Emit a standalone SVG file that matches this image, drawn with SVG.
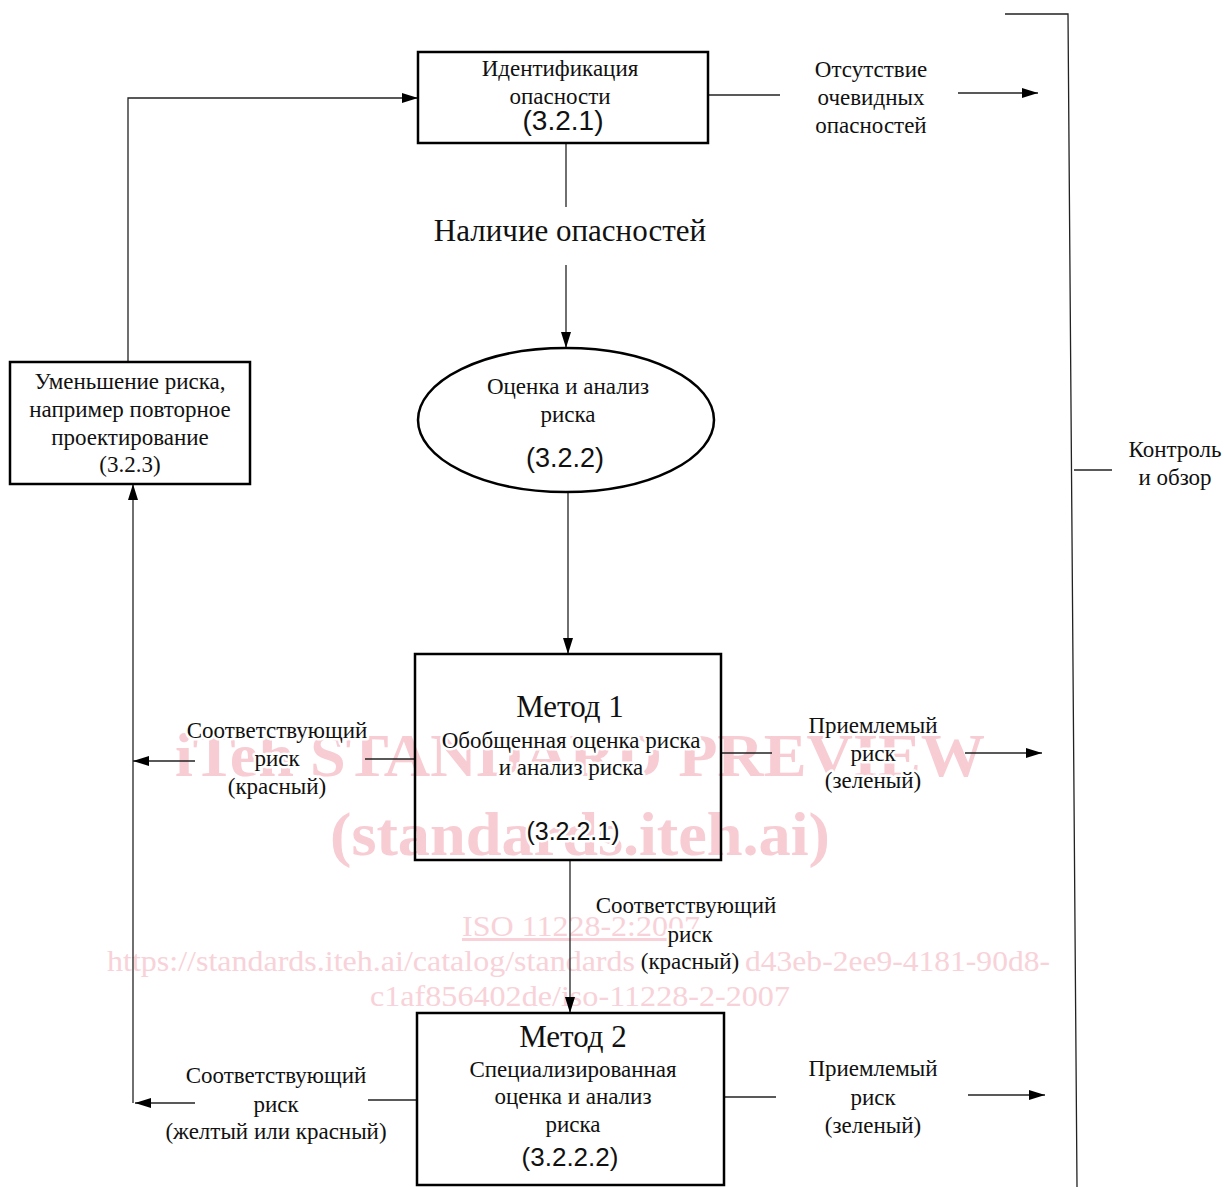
<svg xmlns="http://www.w3.org/2000/svg" width="1224" height="1187" viewBox="0 0 1224 1187">
<defs>
<marker id="ah" viewBox="0 0 16 10" refX="16" refY="5" markerWidth="16" markerHeight="10" markerUnits="userSpaceOnUse" orient="auto">
<path d="M0,0 L16,5 L0,10 z" fill="#000"/>
</marker>
<style>
.t{font-family:"Liberation Serif","DejaVu Serif",serif;font-size:23px;fill:#111;text-anchor:middle;stroke:#fff;stroke-width:5px;stroke-linejoin:round;paint-order:stroke}
.big{font-size:31px}
.mid{font-size:31px}
.num{font-family:"Liberation Sans",Arial,sans-serif;font-size:26px;fill:#111;text-anchor:middle;stroke:#fff;stroke-width:5px;stroke-linejoin:round;paint-order:stroke}
.box{fill:none;stroke:#000;stroke-width:2.5}
.ln{fill:none;stroke:#222;stroke-width:1.3}
.wm{font-family:"Liberation Serif",serif;fill:#f8d2d8;text-anchor:start}
.wmb{font-weight:bold;font-size:62px;fill:#f7ccd3}
.wms{font-size:30px}
</style>
</defs>
<rect width="1224" height="1187" fill="#fff"/>
<g id="watermark">
<text class="wm wmb" x="175" y="776" textLength="810" lengthAdjust="spacingAndGlyphs">iTeh STANDARD PREVIEW</text>
<text class="wm wmb" x="330" y="855" textLength="500" lengthAdjust="spacingAndGlyphs">(standards.iteh.ai)</text>
<text class="wm wms" x="462" y="936" textLength="238" lengthAdjust="spacingAndGlyphs" text-decoration="underline">ISO 11228-2:2007</text>
<text class="wm wms" x="107" y="971" textLength="528" lengthAdjust="spacingAndGlyphs">https://standards.iteh.ai/catalog/standards</text>
<text class="wm wms" x="745" y="971" textLength="305" lengthAdjust="spacingAndGlyphs">d43eb-2ee9-4181-90d8-</text>
<text class="wm wms" x="370" y="1006" textLength="420" lengthAdjust="spacingAndGlyphs">c1af856402de/iso-11228-2-2007</text>
</g>
<g id="connectors">
<polyline class="ln" points="128,362 128,98 418,98" marker-end="url(#ah)"/>
<line class="ln" x1="708" y1="95" x2="780" y2="95"/>
<line class="ln" x1="958" y1="93" x2="1038" y2="93" marker-end="url(#ah)"/>
<line class="ln" x1="566" y1="143" x2="566" y2="207"/>
<line class="ln" x1="566" y1="265" x2="566" y2="348" marker-end="url(#ah)"/>
<line class="ln" x1="568" y1="492" x2="568" y2="654" marker-end="url(#ah)"/>
<line class="ln" x1="415" y1="759" x2="365" y2="759"/>
<line class="ln" x1="195" y1="761" x2="133" y2="761" marker-end="url(#ah)"/>
<line class="ln" x1="721" y1="753" x2="772" y2="753"/>
<line class="ln" x1="965" y1="753" x2="1042" y2="753" marker-end="url(#ah)"/>
<line class="ln" x1="570" y1="860" x2="570" y2="1013" marker-end="url(#ah)"/>
<line class="ln" x1="417" y1="1100" x2="368" y2="1100"/>
<line class="ln" x1="195" y1="1103" x2="135" y2="1103" marker-end="url(#ah)"/>
<line class="ln" x1="133" y1="1103" x2="133" y2="484" marker-end="url(#ah)"/>
<line class="ln" x1="724" y1="1097" x2="776" y2="1097"/>
<line class="ln" x1="968" y1="1095" x2="1045" y2="1095" marker-end="url(#ah)"/>
<polyline class="ln" points="1005,14 1068,14 1077,1187"/>
<line class="ln" x1="1074" y1="470" x2="1112" y2="470"/>
</g>
<g id="n-ident">
<rect class="box" x="418" y="52" width="290" height="91"/>
<text class="t" x="560" y="76">Идентификация</text>
<text class="t" x="560" y="104">опасности</text>
<text class="num" x="563" y="130" style="font-size:28px">(3.2.1)</text>
</g>
<g id="n-absent">
<text class="t" x="871" y="77">Отсутствие</text>
<text class="t" x="871" y="105">очевидных</text>
<text class="t" x="871" y="133">опасностей</text>
</g>
<g id="n-present">
<text class="t mid" x="570" y="241">Наличие опасностей</text>
</g>
<g id="n-reduce">
<rect class="box" x="10" y="362" width="240" height="122"/>
<text class="t" x="130" y="389">Уменьшение риска,</text>
<text class="t" x="130" y="417">например повторное</text>
<text class="t" x="130" y="445">проектирование</text>
<text class="t" x="130" y="472">(3.2.3)</text>
</g>
<g id="n-assess">
<ellipse cx="566" cy="420" rx="148" ry="72" fill="none" stroke="#000" stroke-width="2.5"/>
<text class="t" x="568" y="394">Оценка и анализ</text>
<text class="t" x="568" y="422">риска</text>
<text class="num" x="565" y="467" style="font-size:27px">(3.2.2)</text>
</g>
<g id="n-control">
<text class="t" x="1175" y="457">Контроль</text>
<text class="t" x="1175" y="485">и обзор</text>
</g>
<g id="n-method1">
<rect class="box" x="415" y="654" width="306" height="206"/>
<text class="t big" x="570" y="717">Метод 1</text>
<text class="t" x="571" y="748">Обобщенная оценка риска</text>
<text class="t" x="571" y="775">и анализ риска</text>
<text class="num" x="573" y="840" style="font-size:25px">(3.2.2.1)</text>
</g>
<g id="n-m1-left">
<text class="t" x="277" y="738">Соответствующий</text>
<text class="t" x="277" y="766">риск</text>
<text class="t" x="277" y="794">(красный)</text>
</g>
<g id="n-m1-right">
<text class="t" x="873" y="733">Приемлемый</text>
<text class="t" x="873" y="761">риск</text>
<text class="t" x="873" y="788">(зеленый)</text>
</g>
<g id="n-m1-down">
<text class="t" x="686" y="913">Соответствующий</text>
<text class="t" x="690" y="942">риск</text>
<text class="t" x="690" y="969">(красный)</text>
</g>
<g id="n-method2">
<rect class="box" x="417" y="1013" width="307" height="172"/>
<text class="t big" x="573" y="1047">Метод 2</text>
<text class="t" x="573" y="1077">Специализированная</text>
<text class="t" x="573" y="1104">оценка и анализ</text>
<text class="t" x="573" y="1132">риска</text>
<text class="num" x="570" y="1166">(3.2.2.2)</text>
</g>
<g id="n-m2-left">
<text class="t" x="276" y="1083">Соответствующий</text>
<text class="t" x="276" y="1112">риск</text>
<text class="t" x="276" y="1139">(желтый или красный)</text>
</g>
<g id="n-m2-right">
<text class="t" x="873" y="1076">Приемлемый</text>
<text class="t" x="873" y="1105">риск</text>
<text class="t" x="873" y="1133">(зеленый)</text>
</g>
</svg>
